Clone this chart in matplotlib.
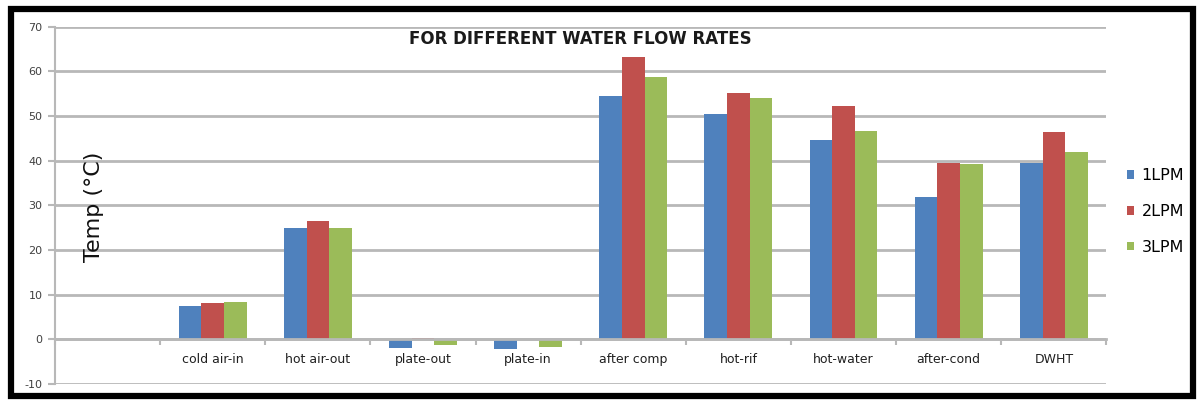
"""Grouped bar chart: temperatures at measuring points for different water flow rates."""

import matplotlib
matplotlib.use("Agg")
import matplotlib.pyplot as plt
import numpy as np
from matplotlib.patches import Rectangle

plt.rcParams["axes.unicode_minus"] = False

# ---------------------------------------------------------------------------
# Data
# ---------------------------------------------------------------------------

categories = ["", "cold air-in", "hot air-out", "plate-out", "plate-in",
              "after comp", "hot-rif", "hot-water", "after-cond", "DWHT"]
series_names = ["1LPM", "2LPM", "3LPM"]
lpm1 = [0.0, 7.5, 24.9, -1.9, -2.2, 54.5, 50.4, 44.6, 31.9, 39.5]
lpm2 = [0.0, 8.1, 26.5, 0.3, 0.0, 63.2, 55.2, 52.2, 39.5, 46.4]
lpm3 = [0.0, 8.4, 24.9, -1.2, -1.7, 58.7, 54.0, 46.6, 39.2, 41.9]
yticks = [-10, 0, 10, 20, 30, 40, 50, 60, 70]

colors = ["#4F81BD", "#C0504D", "#9BBB59"]
grid_color = "#b8b8b8"

# ---------------------------------------------------------------------------
# Figure
# ---------------------------------------------------------------------------

fig = plt.figure(figsize=(12.03, 4.05), dpi=100)
ax = fig.add_axes([0.0457, 0.052, 0.874, 0.882])

x = np.arange(len(categories))
width = 0.215
for i, (vals, name) in enumerate(zip([lpm1, lpm2, lpm3], series_names)):
    ax.bar(x + (i - 1) * width, vals, width, color=colors[i], label=name,
           zorder=3)

ax.set_xlim(-0.5, len(categories) - 0.5)
ax.set_ylim(-10, 70)
ax.set_yticks(yticks)
ax.yaxis.grid(True, color=grid_color, linewidth=2, zorder=0)
ax.tick_params(axis="y", length=5, width=1.5, color=grid_color,
               labelsize=8, labelcolor="#404040", pad=4)

# category axis crosses at zero
for side in ["top", "right"]:
    ax.spines[side].set_visible(False)
ax.spines["left"].set_color(grid_color)
ax.spines["left"].set_linewidth(1.5)
ax.spines["bottom"].set_position(("data", 0))
ax.spines["bottom"].set_color(grid_color)
ax.spines["bottom"].set_linewidth(2)
ax.spines["bottom"].set_zorder(4)

ax.set_xticks(x)
ax.set_xticklabels(categories, fontsize=9, color="#202020")
ax.set_xticks(np.arange(len(categories) + 1) - 0.5, minor=True)
ax.tick_params(axis="x", which="major", length=0, pad=10)
ax.tick_params(axis="x", which="minor", length=4, width=1.5,
               color=grid_color, direction="out")

ax.text(0.5, 0.99, "FOR DIFFERENT WATER FLOW RATES", transform=ax.transAxes,
        ha="center", va="top", fontsize=12, fontweight="bold",
        color="#1a1a1a")

fig.text(0.078, 0.49, "Temp (°C)", rotation=90, ha="center", va="center",
         fontsize=16, color="#111111")

leg = fig.legend(loc="center left", bbox_to_anchor=(0.925, 0.478),
                 frameon=False, fontsize=11.5, handlelength=0.45,
                 handleheight=0.45, handletextpad=0.45, labelspacing=1.3)

# black frame round the whole picture
fig.patches.append(Rectangle((0.009, 0.022), 0.983, 0.955,
                             transform=fig.transFigure, fill=False,
                             edgecolor="black", linewidth=4.5))

fig.savefig("out.png", dpi=100)
